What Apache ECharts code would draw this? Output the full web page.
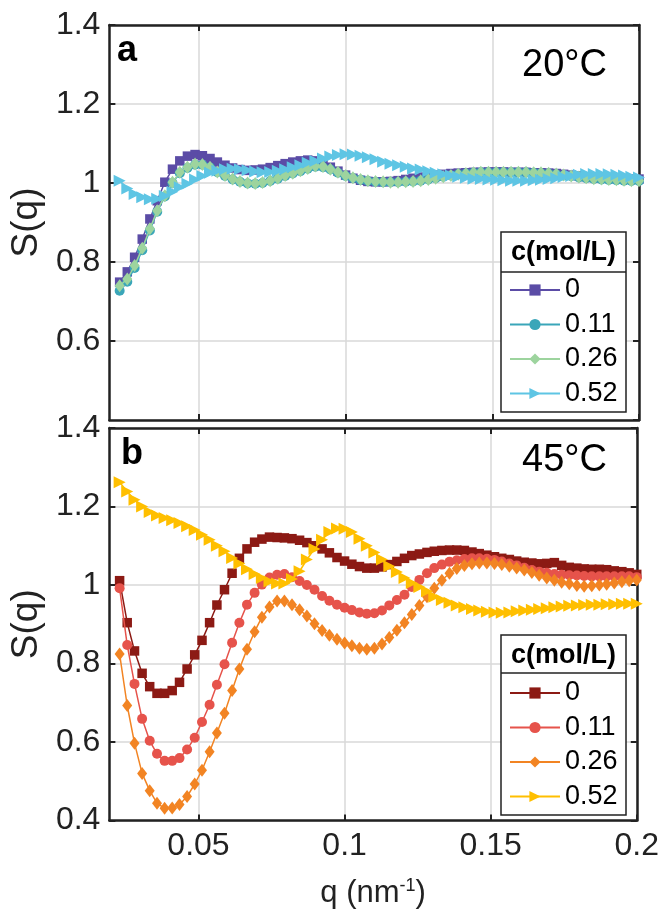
<!DOCTYPE html>
<html>
<head>
<meta charset="utf-8">
<script src="https://cdn.jsdelivr.net/npm/echarts@6/dist/echarts.min.js"></script>
<style>
  html, body { margin: 0; padding: 0; background: #fff; }
  #chart { width: 662px; height: 910px; }
</style>
</head>
<body>
<div id="chart"></div>
<script>
// q grid shared by every curve (nm^-1)
const q = [
  0.0230, 0.0256, 0.0281, 0.0307, 0.0333, 0.0358, 0.0384, 0.0410, 0.0435, 0.0461,
  0.0487, 0.0512, 0.0538, 0.0563, 0.0589, 0.0615, 0.0640, 0.0666, 0.0692, 0.0717,
  0.0743, 0.0769, 0.0794, 0.0820, 0.0846, 0.0871, 0.0897, 0.0923, 0.0948, 0.0974,
  0.1000, 0.1025, 0.1051, 0.1076, 0.1102, 0.1128, 0.1153, 0.1179, 0.1205, 0.1230,
  0.1256, 0.1282, 0.1307, 0.1333, 0.1359, 0.1384, 0.1410, 0.1436, 0.1461, 0.1487,
  0.1513, 0.1538, 0.1564, 0.1589, 0.1615, 0.1641, 0.1666, 0.1692, 0.1718, 0.1743,
  0.1769, 0.1795, 0.1820, 0.1846, 0.1872, 0.1897, 0.1923, 0.1949, 0.1974, 0.2000
];

const concLabels = ["0", "0.11", "0.26", "0.52"];

// panel a, 20 °C
const a_c0 = [
  0.749, 0.775, 0.812, 0.858, 0.909, 0.955, 1.002, 1.035, 1.056, 1.068,
  1.072, 1.069, 1.062, 1.053, 1.045, 1.038, 1.034, 1.032, 1.033, 1.035,
  1.039, 1.044, 1.049, 1.053, 1.056, 1.058, 1.056, 1.050, 1.040, 1.030,
  1.020, 1.012, 1.007, 1.004, 1.003, 1.003, 1.004, 1.006, 1.009, 1.012,
  1.015, 1.018, 1.020, 1.022, 1.024, 1.025, 1.026, 1.027, 1.027, 1.028,
  1.028, 1.028, 1.027, 1.027, 1.027, 1.026, 1.026, 1.025, 1.024, 1.022,
  1.020, 1.018, 1.016, 1.014, 1.013, 1.012, 1.011, 1.010, 1.010, 1.010
];
const a_c011 = [
  0.727, 0.750, 0.785, 0.830, 0.880, 0.927, 0.966, 1.000, 1.025, 1.038,
  1.046, 1.046, 1.039, 1.027, 1.018, 1.009, 1.003, 0.999, 0.998, 1.000,
  1.005, 1.011, 1.018, 1.024, 1.030, 1.036, 1.041, 1.040, 1.034, 1.026,
  1.018, 1.012, 1.008, 1.005, 1.003, 1.002, 1.002, 1.002, 1.003, 1.004,
  1.006, 1.009, 1.012, 1.016, 1.019, 1.022, 1.024, 1.026, 1.027, 1.027,
  1.027, 1.027, 1.027, 1.027, 1.027, 1.026, 1.025, 1.024, 1.022, 1.019,
  1.017, 1.014, 1.012, 1.010, 1.009, 1.008, 1.007, 1.006, 1.005, 1.005
];
const a_c026 = [
  0.740, 0.757, 0.791, 0.835, 0.884, 0.930, 0.968, 1.002, 1.027, 1.040,
  1.048, 1.047, 1.040, 1.028, 1.019, 1.010, 1.004, 1.000, 0.999, 1.001,
  1.006, 1.012, 1.019, 1.025, 1.031, 1.037, 1.043, 1.042, 1.035, 1.027,
  1.019, 1.013, 1.009, 1.006, 1.004, 1.003, 1.002, 1.002, 1.003, 1.004,
  1.006, 1.009, 1.012, 1.016, 1.019, 1.022, 1.024, 1.026, 1.027, 1.027,
  1.027, 1.027, 1.027, 1.027, 1.027, 1.026, 1.026, 1.025, 1.023, 1.020,
  1.018, 1.015, 1.013, 1.011, 1.010, 1.009, 1.008, 1.007, 1.006, 1.006
];
const a_c052 = [
  1.006, 0.986, 0.972, 0.964, 0.959, 0.960, 0.967, 0.978, 0.989, 0.998,
  1.009, 1.018, 1.026, 1.031, 1.035, 1.036, 1.035, 1.032, 1.029, 1.027,
  1.028, 1.031, 1.035, 1.040, 1.045, 1.051, 1.056, 1.062, 1.067, 1.071,
  1.073, 1.072, 1.069, 1.065, 1.060, 1.054, 1.049, 1.045, 1.041, 1.037,
  1.034, 1.030, 1.026, 1.022, 1.019, 1.016, 1.013, 1.011, 1.010, 1.009,
  1.008, 1.007, 1.006, 1.006, 1.006, 1.007, 1.008, 1.010, 1.012, 1.015,
  1.018, 1.021, 1.023, 1.023, 1.023, 1.022, 1.021, 1.019, 1.016, 1.014
];

// panel b, 45 °C
const b_c0 = [
  1.011, 0.904, 0.832, 0.775, 0.741, 0.724, 0.724, 0.731, 0.752, 0.786,
  0.822, 0.859, 0.904, 0.949, 0.988, 1.030, 1.068, 1.092, 1.109, 1.117,
  1.122, 1.121, 1.120, 1.118, 1.114, 1.108, 1.100, 1.092, 1.082, 1.070,
  1.061, 1.053, 1.047, 1.043, 1.043, 1.046, 1.052, 1.060, 1.068, 1.075,
  1.079, 1.083, 1.086, 1.088, 1.089, 1.089, 1.088, 1.084, 1.080, 1.076,
  1.072, 1.068, 1.065, 1.061, 1.058, 1.056, 1.054, 1.055, 1.057, 1.050,
  1.045, 1.043, 1.041, 1.040, 1.040, 1.039, 1.036, 1.034, 1.031, 1.027
];
const b_c011 = [
  0.992, 0.847, 0.748, 0.659, 0.603, 0.570, 0.552, 0.552, 0.559, 0.581,
  0.611, 0.651, 0.695, 0.746, 0.798, 0.853, 0.904, 0.950, 0.980, 1.001,
  1.019, 1.026, 1.028, 1.020, 1.010, 1.000, 0.988, 0.972, 0.960, 0.950,
  0.942, 0.936, 0.930, 0.927, 0.928, 0.935, 0.948, 0.962, 0.975, 0.995,
  1.013, 1.030, 1.043, 1.052, 1.059, 1.063, 1.066, 1.068, 1.068, 1.067,
  1.064, 1.060, 1.055, 1.050, 1.044, 1.038, 1.034, 1.031, 1.028, 1.026,
  1.025, 1.024, 1.023, 1.022, 1.022, 1.022, 1.022, 1.022, 1.022, 1.020
];
const b_c026 = [
  0.824, 0.693, 0.597, 0.520, 0.476, 0.444, 0.431, 0.432, 0.441, 0.461,
  0.493, 0.528, 0.575, 0.623, 0.673, 0.731, 0.786, 0.836, 0.881, 0.918,
  0.944, 0.959, 0.959, 0.950, 0.937, 0.921, 0.901, 0.884, 0.872, 0.862,
  0.852, 0.845, 0.839, 0.836, 0.839, 0.850, 0.866, 0.885, 0.904, 0.925,
  0.948, 0.970, 0.992, 1.012, 1.030, 1.042, 1.050, 1.054, 1.056, 1.056,
  1.055, 1.052, 1.048, 1.043, 1.038, 1.032, 1.025, 1.018, 1.012, 1.007,
  1.003, 0.999, 0.997, 0.998, 1.000, 1.002, 1.005, 1.008, 1.011, 1.013
];
const b_c052 = [
  1.262, 1.238, 1.217, 1.200, 1.186, 1.177, 1.171, 1.165, 1.158, 1.150,
  1.140, 1.128, 1.115, 1.100, 1.086, 1.069, 1.055, 1.040, 1.028, 1.018,
  1.009, 1.004, 1.004, 1.015, 1.035, 1.065, 1.092, 1.115, 1.135, 1.144,
  1.143, 1.135, 1.118, 1.100, 1.083, 1.065, 1.048, 1.033, 1.018, 1.005,
  0.995, 0.984, 0.970, 0.962, 0.955, 0.948, 0.943, 0.939, 0.935, 0.932,
  0.930, 0.929, 0.930, 0.933, 0.935, 0.937, 0.939, 0.941, 0.943, 0.945,
  0.947, 0.948, 0.949, 0.950, 0.950, 0.951, 0.951, 0.952, 0.952, 0.952
];

const xTicks = [0.05, 0.1, 0.15, 0.2];
const colorsA = ["#5b4ca6", "#3aa6b9", "#9dd49e", "#5ec5e4"];
const colorsB = ["#8c1a14", "#e6534b", "#f28423", "#ffbf00"];
const symbols = ["rect", "circle", "diamond", "triangle"];
const symbolSizes = [9.5, 10, [10, 13], 12];

const FONT = "'Liberation Sans', Arial, Helvetica, sans-serif";
const INK = "#222222";
const X_MIN = 0.0195, X_MAX = 0.2;

function pairs(vals) { return vals.map((v, i) => [q[i], v]); }

function makeSeries(panel, vals, k) {
  const colors = panel === 0 ? colorsA : colorsB;
  return {
    type: "line",
    name: (panel === 0 ? "a|" : "b|") + concLabels[k],
    xAxisIndex: panel * 2,
    yAxisIndex: panel * 2,
    data: pairs(vals),
    symbol: symbols[k],
    symbolSize: symbolSizes[k],
    symbolRotate: k === 3 ? -90 : 0,
    showAllSymbol: true,
    color: colors[k],
    lineStyle: { width: 1.5, color: colors[k] },
    itemStyle: { color: colors[k], borderWidth: 0 },
    animation: false,
    z: 2 + k,
  };
}

function xAxis(grid, pos, labels) {
  return {
    type: "value", gridIndex: grid, position: pos, min: X_MIN, max: X_MAX,
    axisLine: { show: true, onZero: false, lineStyle: { color: INK, width: 2.5 } },
    axisTick: { show: true, inside: true, length: 6, customValues: xTicks, lineStyle: { color: INK, width: 2 } },
    axisLabel: { show: labels, customValues: xTicks, color: INK, fontSize: 32, fontFamily: FONT, margin: 10 },
    splitLine: { show: pos === "bottom", lineStyle: { color: "#d9d9d9", width: 1.5 } },
    name: labels ? "q (nm{sup|-1})" : "",
    nameLocation: "middle",
    nameGap: 57,
    nameTextStyle: { color: INK, fontSize: 31, fontFamily: FONT, rich: { sup: { fontSize: 18, verticalAlign: "top", padding: [0, 0, 14, 0], color: INK, fontFamily: FONT } } },
  };
}

function yAxis(grid, pos, showMin) {
  const left = pos === "left";
  return {
    type: "value", gridIndex: grid, position: pos, min: 0.4, max: 1.4, interval: 0.2,
    axisLine: { show: true, onZero: false, lineStyle: { color: INK, width: 2.5 } },
    axisTick: { show: true, inside: true, length: 6, lineStyle: { color: INK, width: 2 } },
    axisLabel: { show: left, showMinLabel: showMin, color: INK, fontSize: 32, fontFamily: FONT, margin: 9 },
    splitLine: { show: left, lineStyle: { color: "#d9d9d9", width: 1.5 } },
    name: left ? "S(q)" : "",
    nameLocation: "middle",
    nameGap: 56,
    nameRotate: 90,
    nameTextStyle: { color: INK, fontSize: 37, fontFamily: FONT },
  };
}

function legend(panel, top) {
  return {
    show: true,
    orient: "vertical",
    left: 509,
    top: top,
    padding: 0,
    data: concLabels.map(c => (panel === 0 ? "a|" : "b|") + c),
    formatter: n => n.split("|")[1],
    itemWidth: 50,
    itemHeight: 14,
    itemGap: 4.5,
    textStyle: { color: "#000", fontSize: 27, fontFamily: FONT, lineHeight: 30 },
    selectedMode: false,
  };
}

function legendFrame(y, h, sep, titleY) {
  return [
    { type: "rect", z: 3, shape: { x: 501, y: y, width: 125, height: h },
      style: { fill: "#fff", stroke: INK, lineWidth: 1.5 } },
    { type: "line", z: 3, shape: { x1: 501, y1: sep, x2: 626, y2: sep },
      style: { stroke: INK, lineWidth: 1.5 } },
    { type: "text", z: 6, x: 563.5, y: titleY,
      style: { text: "c(mol/L)", fontSize: 27, fontWeight: "bold", fontFamily: FONT, fill: "#000",
               textAlign: "center", textVerticalAlign: "middle" } },
  ];
}

// y is the top of the text box
function label(text, x, y, size, bold, align) {
  return { type: "text", z: 6, x: x, y: y,
    style: { text: text, fontSize: size, fontWeight: bold ? "bold" : "normal", fontFamily: FONT,
             fill: "#000", textAlign: align, textVerticalAlign: "top" } };
}

const chart = echarts.init(document.getElementById("chart"), null, { renderer: "canvas" });
chart.setOption({
  animation: false,
  backgroundColor: "#fff",
  grid: [
    { left: 107, top: 25, width: 532, height: 395 },
    { left: 107, top: 428, width: 532, height: 395 },
  ],
  xAxis: [xAxis(0, "bottom", false), xAxis(0, "top", false), xAxis(1, "bottom", true), xAxis(1, "top", false)],
  yAxis: [yAxis(0, "left", false), yAxis(0, "right", false), yAxis(1, "left", true), yAxis(1, "right", false)],
  legend: [legend(0, 275), legend(1, 678)],
  series: [
    makeSeries(0, a_c0, 0), makeSeries(0, a_c011, 1), makeSeries(0, a_c026, 2), makeSeries(0, a_c052, 3),
    makeSeries(1, b_c0, 0), makeSeries(1, b_c011, 1), makeSeries(1, b_c026, 2), makeSeries(1, b_c052, 3),
  ],
  graphic: [
    ...legendFrame(232, 180, 272, 253),
    ...legendFrame(635, 180, 673, 656),
    label("a", 117, 33, 36, true, "left"),
    label("b", 121, 436, 36, true, "left"),
    label("20°C", 607, 47, 38, false, "right"),
    label("45°C", 607, 442, 38, false, "right"),
  ],
});
</script>
</body>
</html>
